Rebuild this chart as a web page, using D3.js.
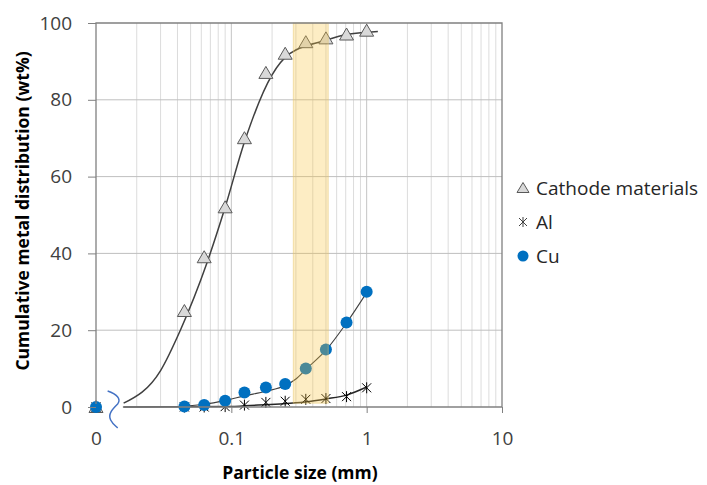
<!DOCTYPE html>
<html>
<head>
<meta charset="utf-8">
<script src="https://cdn.jsdelivr.net/npm/d3@7"></script>
<style>
body{margin:0;background:#fff;}
text{font-family:"Open Sans","Noto Sans",sans-serif;}
</style>
</head>
<body>
<script>
//sieve sizes (mm); 0 = finest fraction, drawn at the axis break
var sizes = [0, 0.045, 0.063, 0.09, 0.125, 0.18, 0.25, 0.355, 0.5, 0.71, 1];
var cathode = [0, 25, 39, 52, 70, 87, 92, 95, 96, 97, 98];
var al = [0, 0, 0, 0.1, 0.5, 1.2, 1.5, 2, 2.2, 2.7, 5];
var cu = [0, 0.1, 0.5, 1.6, 3.8, 5.1, 6, 10, 15, 22, 30];

//smoothed trend lines [size, wt%]
var cathodeTrend = [[0.016,1],[0.03,9.5],[0.042,20],[0.066,37.5],[0.09,52],[0.125,69],[0.2,86.5],[0.27,92],[0.5,95.5],[0.71,97],[1,97.6],[1.21,97.8]];
var cuTrend = [[0.016,0],[0.035,0.05],[0.045,0.2],[0.063,0.7],[0.092,1.8],[0.125,2.9],[0.18,4.1],[0.25,5.6],[0.3,7.3],[0.355,9.8],[0.5,14.8],[0.71,21.9],[1,29.8]];
var alTrend = [[0.016,0],[0.1,0.1],[0.125,0.3],[0.18,0.6],[0.229,0.8],[0.35,1.3],[0.5,2.1],[0.71,3.1],[1,5.2]];

//axis ticks and labels
var xTicks = [0.01, 0.1, 1, 10],
    xTickLabels = ["0", "0.1", "1", "10"],
    yTicks = [0, 20, 40, 60, 80, 100];
var bandRange = [0.287, 0.52]; //highlighted size range
var breakAt = 0.0135;
var legendNames = ["Cathode materials", "Al", "Cu"];

drawChart();

function drawChart(){

    var width = 707, height = 485;
    var pLeft = 96, pRight = 502, pTop = 23, pBottom = 407;

    var svg = d3.select("body").append("svg")
        .attr("width", width)
        .attr("height", height);

    var x = d3.scaleLog().domain([0.01, 10]).range([pLeft, pRight]);
    var y = d3.scaleLinear().domain([0, 100]).range([pBottom, pTop]);

    function xPos(d){ return d === 0 ? x(0.01) : x(d); }

    //vertical grid (log minor + major)
    svg.append("g").selectAll("line")
        .data(x.ticks().filter(function(d){ return d > 0.0101 && d < 9.99; }))
        .enter().append("line")
        .attr("x1", function(d){ return x(d); })
        .attr("x2", function(d){ return x(d); })
        .attr("y1", pTop).attr("y2", pBottom)
        .attr("stroke", function(d){
            var l = Math.log10(d);
            return Math.abs(l - Math.round(l)) < 1e-6 ? "#c4c4c4" : "#dcdcdc";
        })
        .attr("stroke-width", 1);

    //horizontal grid
    svg.append("g").selectAll("line")
        .data(yTicks.filter(function(d){ return d > 0 && d < 100; }))
        .enter().append("line")
        .attr("x1", pLeft).attr("x2", pRight)
        .attr("y1", function(d){ return y(d); })
        .attr("y2", function(d){ return y(d); })
        .attr("stroke", "#bfbfbf");

    //trend lines
    var line = d3.line()
        .x(function(d){ return x(d[0]); })
        .y(function(d){ return y(d[1]); })
        .curve(d3.curveMonotoneX);

    svg.append("path").datum(cathodeTrend).attr("d", line)
        .attr("fill", "none").attr("stroke", "#404040").attr("stroke-width", 1.5);
    svg.append("path").datum(alTrend).attr("d", line)
        .attr("fill", "none").attr("stroke", "#262626").attr("stroke-width", 1.5);
    svg.append("path").datum(cuTrend).attr("d", line)
        .attr("fill", "none").attr("stroke", "#404040").attr("stroke-width", 1.1);

    //marker shapes
    var triPath = "M0,-6.5L7,5.5L-7,5.5Z";
    var starPath = "M-4.5,-4.5L4.5,4.5M-4.5,4.5L4.5,-4.5M0,-5.5V5.5";

    function drawTriangles(g, vals){
        g.selectAll("path").data(vals).enter().append("path")
            .attr("d", triPath)
            .attr("transform", function(d, i){ return "translate(" + xPos(sizes[i]) + "," + y(d) + ")"; })
            .attr("fill", "#d9d9d9").attr("stroke", "#595959").attr("stroke-width", 1);
    }
    function drawStars(g, vals){
        g.selectAll("path").data(vals).enter().append("path")
            .attr("d", starPath)
            .attr("transform", function(d, i){ return "translate(" + xPos(sizes[i]) + "," + y(d) + ")"; })
            .attr("fill", "none").attr("stroke", "#000").attr("stroke-width", 1);
    }
    function drawDots(g, vals){
        g.selectAll("circle").data(vals).enter().append("circle")
            .attr("cx", function(d, i){ return xPos(sizes[i]); })
            .attr("cy", function(d){ return y(d); })
            .attr("r", 6)
            .attr("fill", "#0070c0");
    }

    drawTriangles(svg.append("g"), cathode);
    drawStars(svg.append("g"), al);
    drawDots(svg.append("g"), cu);

    //highlighted band
    svg.append("rect")
        .attr("x", x(bandRange[0]))
        .attr("width", x(bandRange[1]) - x(bandRange[0]))
        .attr("y", y(100))
        .attr("height", y(1) - y(100))
        .attr("fill", "#f8c43c")
        .attr("fill-opacity", 0.3)
        .attr("stroke", "#e8c870")
        .attr("stroke-opacity", 0.5);

    //frame: left, top, right
    svg.append("path")
        .attr("d", "M" + pLeft + "," + (pBottom - 3) + "V" + pTop + "H" + pRight + "V" + pBottom)
        .attr("fill", "none").attr("stroke", "#808080").attr("stroke-width", 1.3);
    //bottom axis line after the break
    svg.append("line")
        .attr("x1", x(0.0158)).attr("x2", pRight)
        .attr("y1", pBottom).attr("y2", pBottom)
        .attr("stroke", "#808080").attr("stroke-width", 1.3);

    //axis break symbol
    var bx = x(breakAt);
    svg.append("path")
        .attr("d", "M-6,-16C3,-13 8,-8 4,-3C-1,2 -6,7 -3,13C-1,17 2,19 4,21")
        .attr("transform", "translate(" + bx + "," + pBottom + ")")
        .attr("fill", "none").attr("stroke", "#4472c4").attr("stroke-width", 1.5);

    //y axis
    var yAxis = svg.append("g")
        .attr("transform", "translate(" + pLeft + ",0)")
        .call(d3.axisLeft(y).tickValues(yTicks).tickSize(8).tickPadding(16));
    yAxis.select(".domain").remove();
    yAxis.selectAll(".tick line").attr("stroke", "#808080");
    yAxis.selectAll("text").attr("font-size", 19).attr("fill", "#404040")
        .attr("font-family", '"Open Sans","Noto Sans",sans-serif');

    //x axis
    var xAxis = svg.append("g")
        .attr("transform", "translate(0," + pBottom + ")")
        .call(d3.axisBottom(x).tickValues(xTicks).tickSize(6).tickPadding(19)
            .tickFormat(function(d, i){ return xTickLabels[i]; }));
    xAxis.select(".domain").remove();
    xAxis.selectAll(".tick line").attr("stroke", "#808080")
        .attr("opacity", function(d){ return d === 0.01 ? 0 : 1; });
    xAxis.selectAll("text").attr("font-size", 19).attr("fill", "#404040")
        .attr("font-family", '"Open Sans","Noto Sans",sans-serif');

    //axis titles
    svg.append("text")
        .attr("x", (pLeft + pRight) / 2 + 1).attr("y", 479)
        .attr("text-anchor", "middle")
        .attr("font-size", 17.5).attr("font-weight", "bold").attr("fill", "#000")
        .text("Particle size (mm)");
    svg.append("text")
        .attr("transform", "translate(29,211) rotate(-90)")
        .attr("text-anchor", "middle")
        .attr("font-size", 17.5).attr("font-weight", "bold").attr("fill", "#000")
        .text("Cumulative metal distribution (wt%)");

    //legend
    var legend = svg.append("g").attr("transform", "translate(523,188)");
    legendNames.forEach(function(name, i){
        var g = legend.append("g").attr("transform", "translate(0," + (i * 34) + ")");
        if (i === 0){
            g.append("path").attr("d", "M0,-5.5L6,4.5L-6,4.5Z")
                .attr("fill", "#d9d9d9").attr("stroke", "#595959");
        } else if (i === 1){
            g.append("path").attr("d", "M-4,-4L4,4M-4,4L4,-4M0,-5V5")
                .attr("stroke", "#404040").attr("fill", "none");
        } else {
            g.append("circle").attr("r", 5.5).attr("fill", "#0070c0");
        }
        g.append("text")
            .attr("x", 13).attr("y", 0)
            .attr("dy", "0.35em")
            .attr("font-size", 19).attr("fill", "#262626")
            .text(name);
    });
}
</script>
</body>
</html>
